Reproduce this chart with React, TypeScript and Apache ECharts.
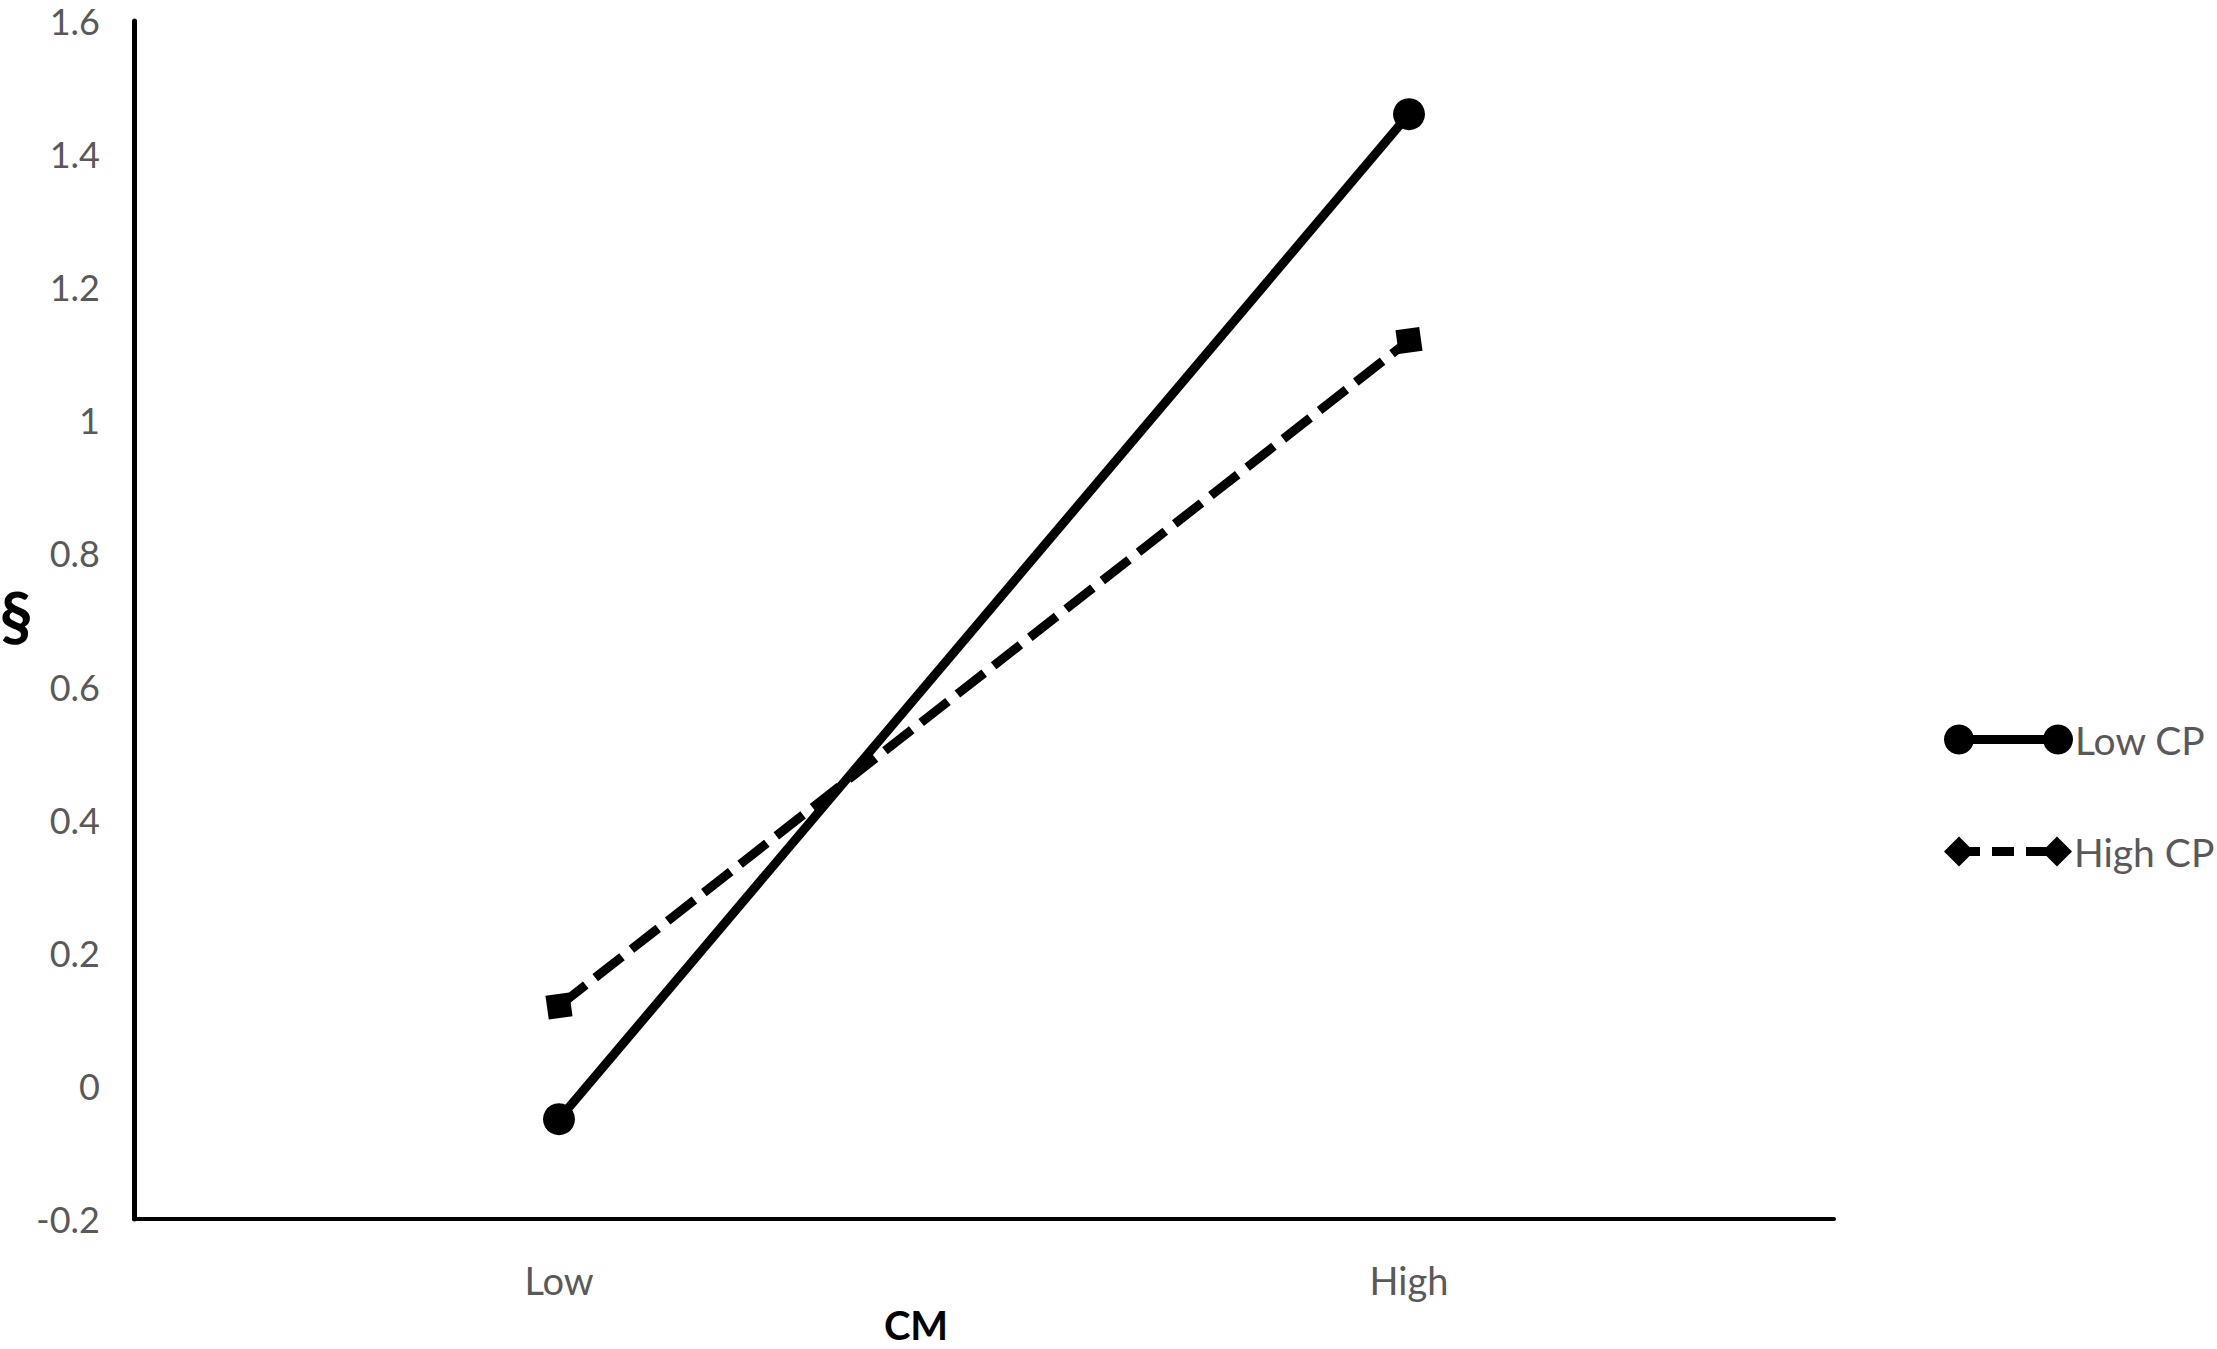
import React, { useEffect, useRef } from "react";
import * as echarts from "echarts";

const categories = ["Low", "High"];
const lowCP = [-0.05, 1.46];
const highCP = [0.12, 1.12];
const seriesNames = ["Low CP", "High CP"];
const yTicks = { min: -0.2, max: 1.6, interval: 0.2 };
const xTitle = "CM";
const yTitle = "§";

export default function App() {
  const ref = useRef<HTMLDivElement>(null);
  useEffect(() => {
    if (!ref.current) return;
    const chart = echarts.init(ref.current, null, { renderer: "svg" });
    const font = "Lato";
    const grey = "#595959";
    chart.setOption({
      animation: false,
      backgroundColor: "#ffffff",
      grid: { left: 134, right: 383, top: 21, bottom: 130, containLabel: false },
      xAxis: {
        type: "category",
        data: categories,
        boundaryGap: true,
        axisLine: { show: true, onZero: false, lineStyle: { color: "#000", width: 4 } },
        axisTick: { show: false },
        axisLabel: { color: grey, fontFamily: font, fontSize: 38, margin: 42 },
        splitLine: { show: false },
      },
      yAxis: {
        type: "value",
        min: yTicks.min,
        max: yTicks.max,
        interval: yTicks.interval,
        axisLine: { show: true, lineStyle: { color: "#000", width: 5 } },
        axisTick: { show: false },
        splitLine: { show: false },
        axisLabel: { color: grey, fontFamily: font, fontSize: 36, margin: 34 },
      },
      graphic: [
        {
          type: "text",
          x: 16,
          y: 615,
          style: { text: yTitle, font: `bold 66px ${font}`, fill: "#000", align: "center", verticalAlign: "middle" },
        },
        {
          type: "text",
          x: 916,
          y: 1325,
          style: { text: xTitle, font: `bold 40px ${font}`, fill: "#000", align: "center", verticalAlign: "middle" },
        },
        // custom legend
        {
          type: "group",
          left: 1944,
          top: 720,
          children: [
            { type: "line", shape: { x1: 14, y1: 18, x2: 113, y2: 18 }, style: { stroke: "#000", lineWidth: 9 } },
            { type: "circle", shape: { cx: 14, cy: 18, r: 15 }, style: { fill: "#000" } },
            { type: "circle", shape: { cx: 113, cy: 18, r: 15 }, style: { fill: "#000" } },
            { type: "text", x: 130, y: 18, style: { text: seriesNames[0], font: `39px ${font}`, fill: grey, verticalAlign: "middle" } },
          ],
        },
        {
          type: "group",
          left: 1944,
          top: 832,
          children: [
            { type: "line", shape: { x1: 14, y1: 18, x2: 113, y2: 18 }, style: { stroke: "#000", lineWidth: 9, lineDash: [22, 12] } },
            { type: "polygon", shape: { points: [[0, 18], [15, 3], [30, 18], [15, 33]] }, style: { fill: "#000" } },
            { type: "polygon", shape: { points: [[98, 18], [113, 3], [128, 18], [113, 33]] }, style: { fill: "#000" } },
            { type: "text", x: 130, y: 18, style: { text: seriesNames[1], font: `39px ${font}`, fill: grey, verticalAlign: "middle" } },
          ],
        },
      ],
      series: [
        {
          name: seriesNames[0],
          type: "line",
          data: lowCP,
          symbol: "circle",
          symbolSize: 32,
          lineStyle: { color: "#000", width: 9 },
          itemStyle: { color: "#000" },
        },
        {
          name: seriesNames[1],
          type: "line",
          data: highCP,
          symbol: "rect",
          symbolSize: 24,
          symbolRotate: 8,
          lineStyle: { color: "#000", width: 9, type: [34, 12] },
          itemStyle: { color: "#000" },
        },
      ],
    });
    return () => chart.dispose();
  }, []);
  return (
    <div
      ref={ref}
      style={{ position: "fixed", left: 0, top: 0, width: 2217, height: 1349, background: "#fff" }}
    />
  );
}
